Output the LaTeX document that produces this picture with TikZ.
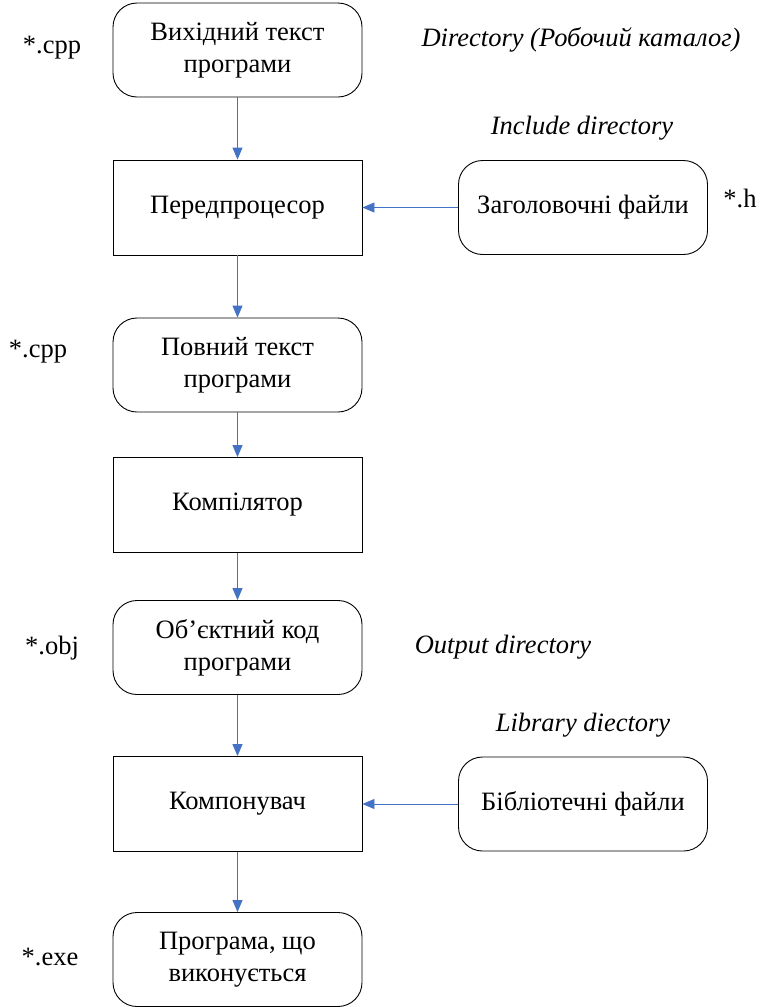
\documentclass[tikz,border=0pt]{standalone}
\usepackage{fontspec}
\setmainfont{LiberationSerif}[Extension=.ttf,UprightFont=*-Regular,ItalicFont=*-Italic,BoldFont=*-Bold,BoldItalicFont=*-BoldItalic]
\usetikzlibrary{arrows.meta}
\definecolor{arrowblue}{RGB}{68,114,196}
\newcommand{\bodysize}{\fontsize{26.5}{32}\selectfont}
\begin{document}
\begin{tikzpicture}[x=1pt,y=-1pt,
  rbox/.style={draw=black,line width=0.9pt,rounded corners=24pt,minimum width=249pt,minimum height=94pt,align=center,inner sep=0pt,font=\bodysize},
  sbox/.style={draw=black,line width=0.9pt,minimum width=249pt,minimum height=95pt,align=center,inner sep=0pt,font=\bodysize},
  conn/.style={draw=arrowblue,line width=0.9pt,-{Triangle[width=10pt,length=12pt]}},
  lbl/.style={inner sep=0pt,font=\bodysize\itshape},
  ext/.style={inner sep=0pt,font=\bodysize}]
\useasboundingbox (0,0) rectangle (776,1007);
\node[rbox] (src) at (237.5,50) {Вихідний текст\\програми};
\node[sbox] (pre) at (237.5,207.5) {Передпроцесор};
\node[rbox] (full) at (237.5,365) {Повний текст\\програми};
\node[sbox] (comp) at (237.5,505) {Компілятор};
\node[rbox] (obj) at (237.5,647.5) {Об’єктний код\\програми};
\node[sbox] (link) at (237.5,804) {Компонувач};
\node[rbox] (exe) at (237.5,959.5) {Програма, що\\виконується};
\node[rbox] (hdr) at (583,207.5) {Заголовочні файли};
\node[rbox] (lib) at (583,804) {Бібліотечні файли};
\draw[conn] (src) -- (pre);
\draw[conn] (pre) -- (full);
\draw[conn] (full) -- (comp);
\draw[conn] (comp) -- (obj);
\draw[conn] (obj) -- (link);
\draw[conn] (link) -- (exe);
\draw[conn] (hdr) -- (pre);
\draw[conn] (lib) -- (link);
\node[ext] (e1) at (52,48) {*.cpp};
\node[ext] (e2) at (740,198) {*.h};
\node[ext] (e3) at (38,352) {*.cpp};
\node[ext] (e4) at (52,648) {*.obj};
\node[ext] (e5) at (50,957) {*.exe};
\node[lbl] (l1) at (581,40) {Directory (Робочий каталог)};
\node[lbl] (l2) at (582,128) {Include directory};
\node[lbl] (l3) at (503,647) {Output directory};
\node[lbl] (l4) at (583,725) {Library diectory};
\end{tikzpicture}
\end{document}
